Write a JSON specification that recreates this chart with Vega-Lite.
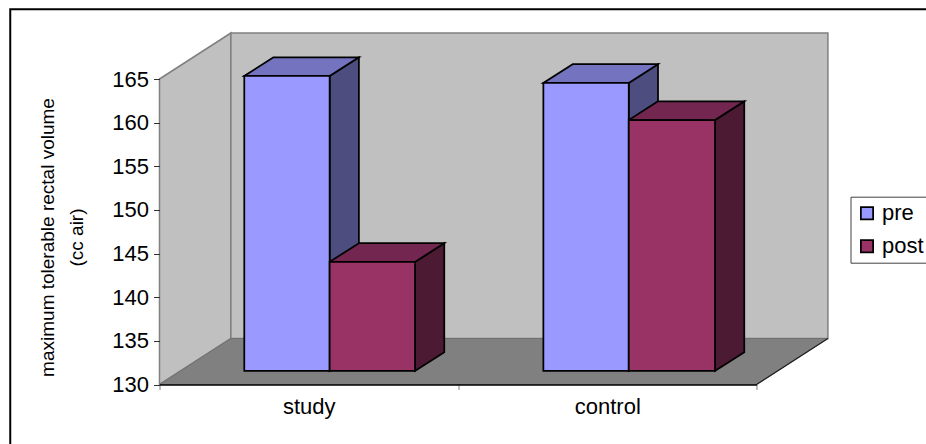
{
"$schema":"https://vega.github.io/schema/vega-lite/v6.json",
"width":597,"height":305.5,
"autosize":{"type":"none"},
"padding":{"left":159.5,"top":79,"right":169.5,"bottom":59.5},
"background":"white",
"view":{"stroke":null},
"config":{"font":"Liberation Sans"},
"datasets":{
"bars":[
{"group":"study","series":"pre","value":163.8},
{"group":"study","series":"post","value":142.5},
{"group":"control","series":"pre","value":163.0},
{"group":"control","series":"post","value":158.75}
],
"depths":[{"depth":0},{"depth":1}]
},
"layer":[
{"data":{"values":[{"part":"frame"}]},
"mark":{"type":"rect","fill":"white","stroke":"black","strokeWidth":2},
"encoding":{
"x":{"datum":-0.5,"type":"quantitative","scale":{"domain":[0,2],"nice":false,"zero":false},"axis":{"orient":"bottom","zindex":1,"values":[0,1,2],"labels":false,"title":null,"grid":false,"domainColor":"#000000","domainWidth":1.5,"tickColor":"#808080","tickSize":5,"tickWidth":1}},
"x2":{"datum":2.6},
"y":{"datum":173,"type":"quantitative","scale":{"domain":[130,165],"nice":false,"zero":false},"axis":{"orient":"left","zindex":1,"values":[130,135,140,145,150,155,160,165],"title":["maximum tolerable rectal volume","(cc air)"],"titleFont":"Liberation Sans","titleFontWeight":"normal","titleFontSize":19,"titleColor":"black","titleLineHeight":29,"titlePadding":25,"titleY":158,"labelFont":"Liberation Sans","labelFontSize":22,"labelColor":"black","labelPadding":5,"grid":false,"domain":false,"tickColor":"#303030","tickSize":6,"tickWidth":1}},
"y2":{"datum":120}
}},
{"data":{"values":[{"part":"labels"}]},
"mark":{"type":"rect","opacity":0},
"encoding":{
"x":{"datum":0,"type":"quantitative","axis":{"orient":"bottom","zindex":1,"values":[0.5,1.5],"labelExpr":"datum.value<1?'study':'control'","title":null,"grid":false,"domain":false,"ticks":false,"labelFont":"Liberation Sans","labelFontSize":22,"labelColor":"black","labelPadding":12}},
"x2":{"datum":0},
"y":{"datum":130,"type":"quantitative"}
}},
{"data":{"name":"depths"},
"transform":[{"calculate":"datum.depth*0.2392","as":"wx"},{"calculate":"165+datum.depth*5.27","as":"wt"},{"calculate":"130+datum.depth*5.27","as":"wb"}],
"mark":{"type":"area","color":"#C0C0C0","stroke":"#808080","strokeWidth":1.5},
"encoding":{"x":{"field":"wx","type":"quantitative","axis":null},"y":{"field":"wt","type":"quantitative"},"y2":{"field":"wb"}}
},
{"data":{"values":[{"part":"back"}]},
"mark":{"type":"rect","color":"#C0C0C0","stroke":"#808080","strokeWidth":1.5},
"encoding":{"x":{"datum":0.2392,"type":"quantitative","axis":null},"x2":{"datum":2.2392},"y":{"datum":170.27,"type":"quantitative"},"y2":{"datum":135.27}}
},
{"data":{"name":"depths"},
"transform":[{"calculate":"datum.depth*0.2392","as":"fx"},{"calculate":"2+datum.depth*0.2392","as":"fx2"},{"calculate":"130+datum.depth*5.27","as":"fy"}],
"mark":{"type":"area","orient":"horizontal","color":"#808080","stroke":"#707070","strokeWidth":1},
"encoding":{"y":{"field":"fy","type":"quantitative"},"x":{"field":"fx","type":"quantitative","axis":null},"x2":{"field":"fx2"}}
},
{"data":{"values":[{"part":"floor edge"}]},
"mark":{"type":"rule","color":"#202020","strokeWidth":1.25},
"encoding":{"x":{"datum":2,"type":"quantitative","axis":null},"x2":{"datum":2.2392},"y":{"datum":130,"type":"quantitative"},"y2":{"datum":135.27}}
},
{"data":{"name":"bars"},
"transform":[{"filter":"datum.series=='pre'"},
{"calculate":"(datum.group=='study'?0:1)+0.57+(datum.group=='study'?0:0.002)","as":"front"},
{"calculate":"datum.front+0.098","as":"back"},
{"fold":["front","back"],"as":["edge","sx"]},
{"calculate":"datum.value+1.55+(datum.edge=='back'?2.14:0)","as":"st"},
{"calculate":"131.55+(datum.edge=='back'?2.14:0)","as":"sb"}],
"mark":{"type":"area","color":"#4D4D80","stroke":"black","strokeWidth":1.75},
"encoding":{"x":{"field":"sx","type":"quantitative","axis":null},"y":{"field":"st","type":"quantitative"},"y2":{"field":"sb"},"detail":{"field":"group"}}
},
{"data":{"name":"bars"},
"transform":[{"filter":"datum.series=='pre'"},
{"calculate":"datum.value+1.55","as":"front"},
{"calculate":"datum.front+2.14","as":"back"},
{"fold":["front","back"],"as":["edge","ty"]},
{"calculate":"(datum.group=='study'?0:1.002)+0.284+(datum.edge=='back'?0.098:0)","as":"tx"},
{"calculate":"datum.tx+0.286","as":"tx2"}],
"mark":{"type":"area","orient":"horizontal","color":"#7373BF","stroke":"black","strokeWidth":1.75},
"encoding":{"y":{"field":"ty","type":"quantitative"},"x":{"field":"tx","type":"quantitative","axis":null},"x2":{"field":"tx2"},"detail":{"field":"group"}}
},
{"data":{"name":"bars"},
"transform":[{"filter":"datum.series=='post'"},
{"calculate":"(datum.group=='study'?0.856:1.861)","as":"front"},
{"calculate":"datum.front+0.098","as":"back"},
{"fold":["front","back"],"as":["edge","sx"]},
{"calculate":"datum.value+1.55+(datum.edge=='back'?2.14:0)","as":"st"},
{"calculate":"131.55+(datum.edge=='back'?2.14:0)","as":"sb"}],
"mark":{"type":"area","color":"#4D1A33","stroke":"black","strokeWidth":1.75},
"encoding":{"x":{"field":"sx","type":"quantitative","axis":null},"y":{"field":"st","type":"quantitative"},"y2":{"field":"sb"},"detail":{"field":"group"}}
},
{"data":{"name":"bars"},
"transform":[{"filter":"datum.series=='post'"},
{"calculate":"datum.value+1.55","as":"front"},
{"calculate":"datum.front+2.14","as":"back"},
{"fold":["front","back"],"as":["edge","ty"]},
{"calculate":"(datum.group=='study'?0.57:1.572)+(datum.edge=='back'?0.098:0)","as":"tx"},
{"calculate":"datum.tx+(datum.group=='study'?0.286:0.289)","as":"tx2"}],
"mark":{"type":"area","orient":"horizontal","color":"#732650","stroke":"black","strokeWidth":1.75},
"encoding":{"y":{"field":"ty","type":"quantitative"},"x":{"field":"tx","type":"quantitative","axis":null},"x2":{"field":"tx2"},"detail":{"field":"group"}}
},
{"data":{"name":"bars"},
"transform":[
{"calculate":"(datum.group=='study'?0:1.002)+(datum.series=='pre'?0.284:0.57)","as":"x0"},
{"calculate":"datum.x0+(datum.series=='pre'?0.286:(datum.group=='study'?0.286:0.289))","as":"x1"},
{"calculate":"datum.value+1.55","as":"top"},
{"calculate":"131.55","as":"base"}],
"mark":{"type":"rect","stroke":"black","strokeWidth":1.75},
"encoding":{"x":{"field":"x0","type":"quantitative","axis":null},"x2":{"field":"x1"},"y":{"field":"top","type":"quantitative"},"y2":{"field":"base"},
"color":{"field":"series","type":"nominal","scale":{"domain":["pre","post"],"range":["#9999FF","#993366"]},
"legend":{"title":null,"orient":"none","legendX":691,"legendY":117.7,"fillColor":"white","strokeColor":"#404040","padding":5.5,"labelFont":"Liberation Sans","labelFontSize":22,"labelColor":"black","symbolType":"square","symbolSize":150,"symbolStrokeColor":"black","symbolStrokeWidth":1.75,"labelOffset":4,"rowPadding":11}}}
}
],
"resolve":{"axis":{"x":"independent"}}
}
